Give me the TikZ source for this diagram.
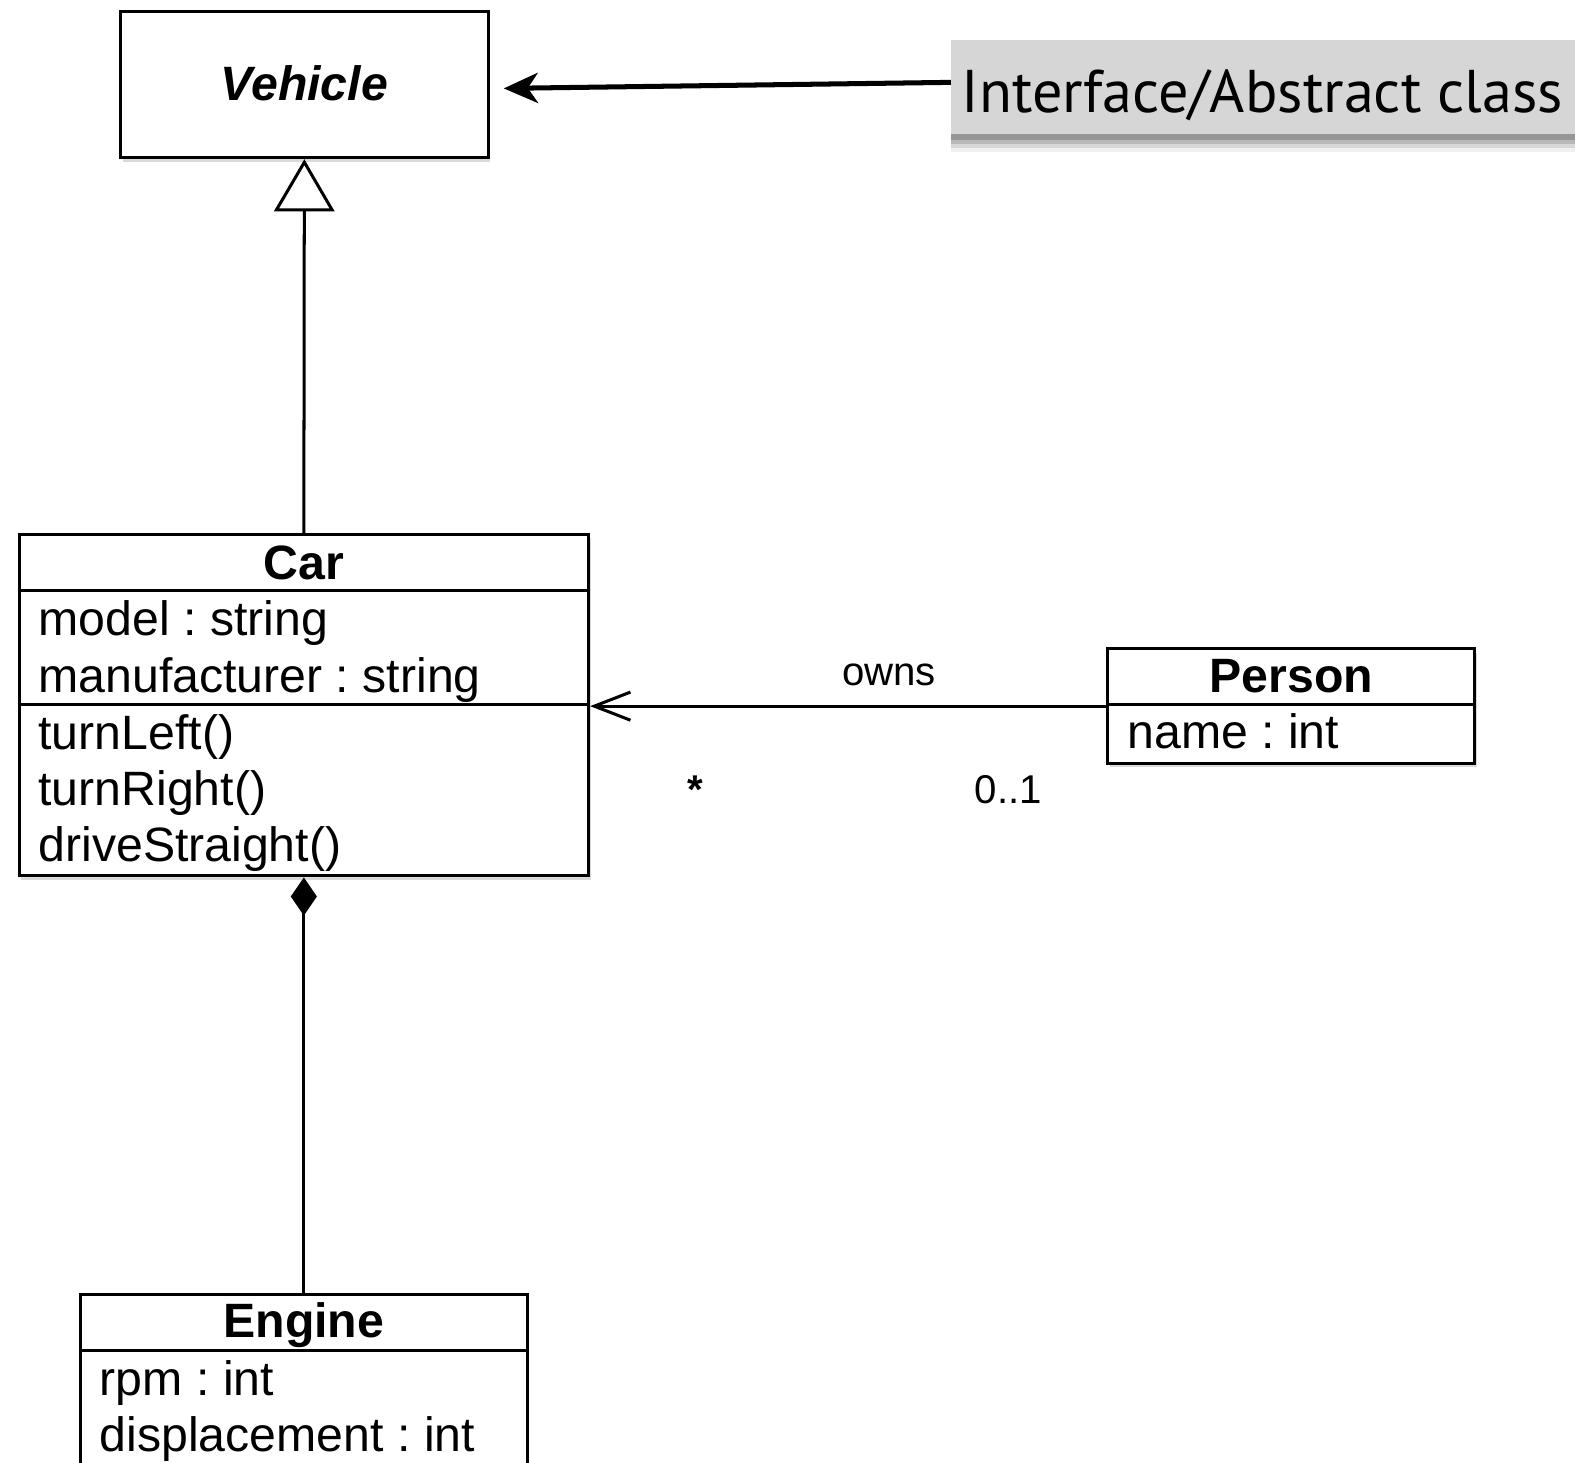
\documentclass[tikz,border=0pt]{standalone}
\usepackage{fontspec}
\setmainfont{Liberation Sans}
\newfontfamily\notefont{PT Sans}
\usetikzlibrary{arrows.meta,shadows}
\frenchspacing
\definecolor{ink}{HTML}{000000}
\definecolor{notegray}{HTML}{D6D6D6}
\tikzset{
  classbox/.style={draw=ink, line width=1.5pt, fill=white, inner sep=0pt,
    drop shadow={shadow xshift=1pt, shadow yshift=-2pt, opacity=0.15, fill=black}},
  notebox/.style={fill=notegray, inner sep=0pt,
    drop shadow={shadow xshift=0pt, shadow yshift=-9pt, opacity=0.06, fill=black},
    drop shadow={shadow xshift=0pt, shadow yshift=-7pt, opacity=0.1, fill=black},
    drop shadow={shadow xshift=0pt, shadow yshift=-5pt, opacity=0.14, fill=black},
    drop shadow={shadow xshift=0pt, shadow yshift=-3pt, opacity=0.18, fill=black}},
  member/.style={font=\fontsize{24}{28}\selectfont, inner sep=0pt, anchor=base west},
  classname/.style={font=\fontsize{24}{28}\selectfont\bfseries, inner sep=0pt, anchor=base},
  mult/.style={font=\fontsize{20}{24}\selectfont, inner sep=0pt, anchor=base},
  link/.style={draw=ink, line width=1.5pt},
}

\begin{document}
\begin{tikzpicture}[x=0.5pt, y=-0.5pt]
\fill[white] (0,0) rectangle (1568,1456);
\clip (0,0) rectangle (1568,1456);

% abstract class
\node[classbox, minimum width=183pt, minimum height=73pt] (vehicle) at (303,84) {};
\node[classname, font=\fontsize{24}{28}\selectfont\bfseries\itshape] (vehiclename) at (303,100) {Vehicle};

% car
\node[classbox, minimum width=283.5pt, minimum height=170pt] (car) at (302.5,702) {};
\draw[link] ([yshift=-28.5pt]car.north west) -- ([yshift=-28.5pt]car.north east);
\draw[link] ([yshift=-85.5pt]car.north west) -- ([yshift=-85.5pt]car.north east);
\node[classname] (carname) at (302.5,577) {Car};
\node[member] (carmodel) at (38,633) {model : string};
\node[member] (carmaker) at (38,689) {manufacturer : string};
\node[member] (carleft) at (38,746) {turnLeft()};
\node[member] (carright) at (38,802) {turnRight()};
\node[member] (carstraight) at (38,858) {driveStraight()};

% person
\node[classbox, minimum width=182.5pt, minimum height=57pt] (person) at (1285.5,703) {};
\draw[link] ([yshift=-28.5pt]person.north west) -- ([yshift=-28.5pt]person.north east);
\node[classname] (personname) at (1285.5,689) {Person};
\node[member] (personattr) at (1122,745) {name : int};

% engine
\node[classbox, minimum width=222.5pt, minimum height=110pt] (engine) at (302.5,1399) {};
\draw[link] ([yshift=-28.5pt]engine.north west) -- ([yshift=-28.5pt]engine.north east);
\node[classname] (enginename) at (302.5,1332) {Engine};
\node[member] (enginerpm) at (99,1389) {rpm : int};
\node[member] (enginedisp) at (99,1445) {displacement : int};

% relations
\draw[link, -{Triangle[open, length=26pt, width=30pt, fill=white]}] (car.north) -- (vehicle.south);
\draw[link, -{Diamond[length=19pt, width=13pt]}] (engine.north) -- (car.south);
\draw[link, -{Straight Barb[length=18pt, width=14pt]}] (person.west) -- (car.east |- person.west);
\node[mult] (ownslabel) at (885,682) {owns};
\node[mult, font=\fontsize{20}{24}\selectfont\bfseries] (carmult) at (692,800) {*};
\node[mult] (personmult) at (1004,800) {0..1};

% note
\node[notebox, minimum width=326.5pt, minimum height=46.5pt] (note) at (1273.5,86.5) {};
\node[font=\notefont\fontsize{30}{34}\selectfont, inner sep=0pt, anchor=base west] (notetext) at (957,112) {Interface/Abstract class};
\draw[line width=2.5pt, -{Stealth[length=17pt, width=15pt, inset=5pt]}] ([yshift=2.25pt]note.west) -- ([xshift=7pt, yshift=-2pt]vehicle.east);
\end{tikzpicture}
\end{document}
